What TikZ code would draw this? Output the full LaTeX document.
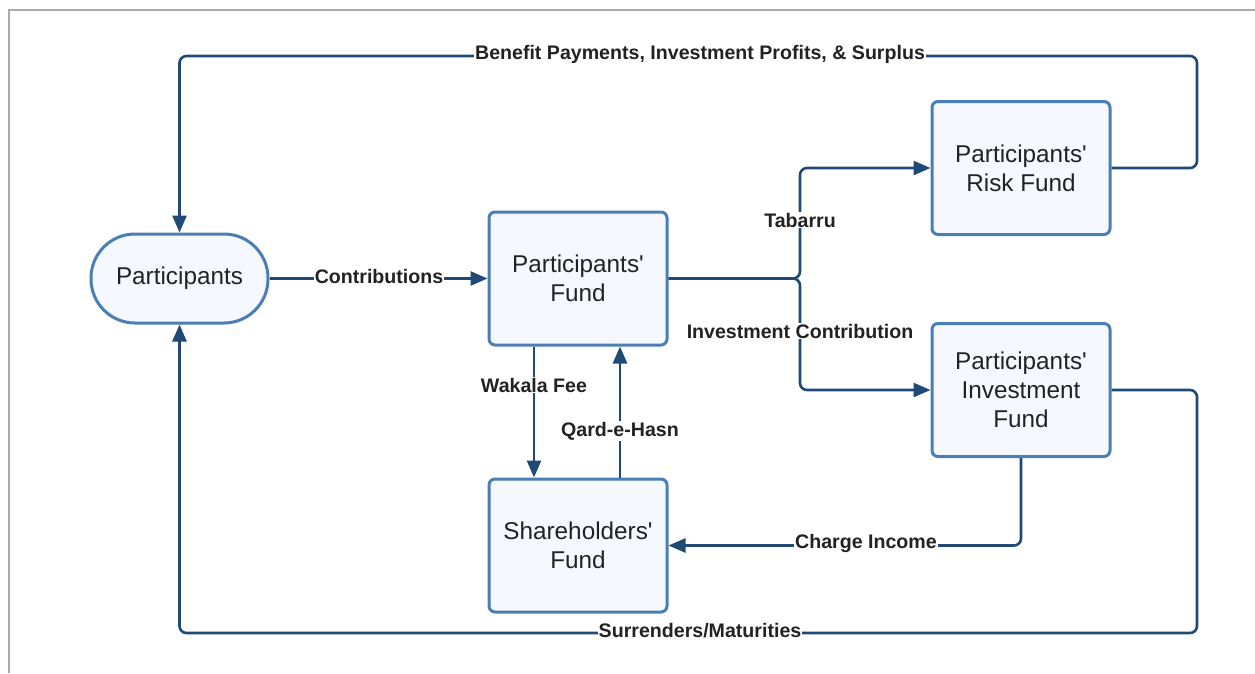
\documentclass[tikz,border=0pt]{standalone}
\usepackage{fontspec}
\setmainfont{Liberation Sans}[Ligatures=TeXOff]
\usetikzlibrary{arrows.meta}
\definecolor{boxline}{HTML}{4A7EB5}
\definecolor{boxfill}{HTML}{F5F9FF}
\definecolor{connc}{HTML}{1F4A75}
\definecolor{txt}{HTML}{222222}
\definecolor{framec}{HTML}{AAAAAA}
\begin{document}
\begin{tikzpicture}[x=1pt,y=-1pt,
  fund/.style={draw=boxline, fill=boxfill, line width=3pt, rounded corners=6pt,
    minimum width=178pt, minimum height=133pt, align=center,
    font=\fontsize{24.3}{29}\selectfont, text=txt, inner sep=0pt},
  stadium/.style={draw=boxline, fill=boxfill, line width=3pt, rounded corners=44pt,
    minimum width=177pt, minimum height=89pt, align=center,
    font=\fontsize{24.3}{29}\selectfont, text=txt, inner sep=0pt},
  connector/.style={draw=connc, line width=2.6pt, rounded corners=7pt,
    -{Triangle[length=17pt,width=14pt]}},
  lbl/.style={fill=white, text=txt, inner sep=1pt,
    font=\fontsize{19.6}{22}\selectfont\bfseries}
]
\useasboundingbox (0,0) rectangle (1255,673);
\draw[framec, line width=2pt] (8.5,673) -- (8.5,10) -- (1255,10);

\node[stadium] (p) at (179.5,278.5) {Participants};
\node[fund] (pf) at (578,278.5) {Participants'\\Fund};
\node[fund] (sf) at (578,545.5) {Shareholders'\\Fund};
\node[fund] (rf) at (1021,168) {Participants'\\Risk Fund};
\node[fund] (if) at (1021,390) {Participants'\\Investment\\Fund};

\coordinate (split) at (800,278.5);
\coordinate (tr) at (1197,56);
\coordinate (br) at (1197,633);

\draw[connector] (p.east) -- (pf.west);
\draw[connector] (pf.east) -- (split) |- (rf.west);
\draw[connector] (pf.east) -- (split) |- (if.west);
\draw[connector] (rf.east) -| (tr) -| (p.north);
\draw[connector] (if.east) -| (br) -| (p.south);
\draw[connector] (if.south) |- (sf.east);
\draw[connector] ([xshift=-44pt]pf.south) -- ([xshift=-44pt]sf.north);
\draw[connector] ([xshift=42pt]sf.north) -- ([xshift=42pt]pf.south);

\node[lbl] (l1) at (379,276.5) {Contributions};
\node[lbl] (l2) at (800,220) {Tabarru};
\node[lbl] (l3) at (800,331) {Investment Contribution};
\node[lbl] (l4) at (700,54) {Benefit Payments, Investment Profits, \& Surplus};
\node[lbl] (l5) at (700,631) {Surrenders/Maturities};
\node[lbl] (l6) at (866,543) {Charge Income};
\node[lbl] (l7) at (534,385) {Wakala Fee};
\node[lbl] (l8) at (620,431) {Qard-e-Hasn};
\end{tikzpicture}
\end{document}
